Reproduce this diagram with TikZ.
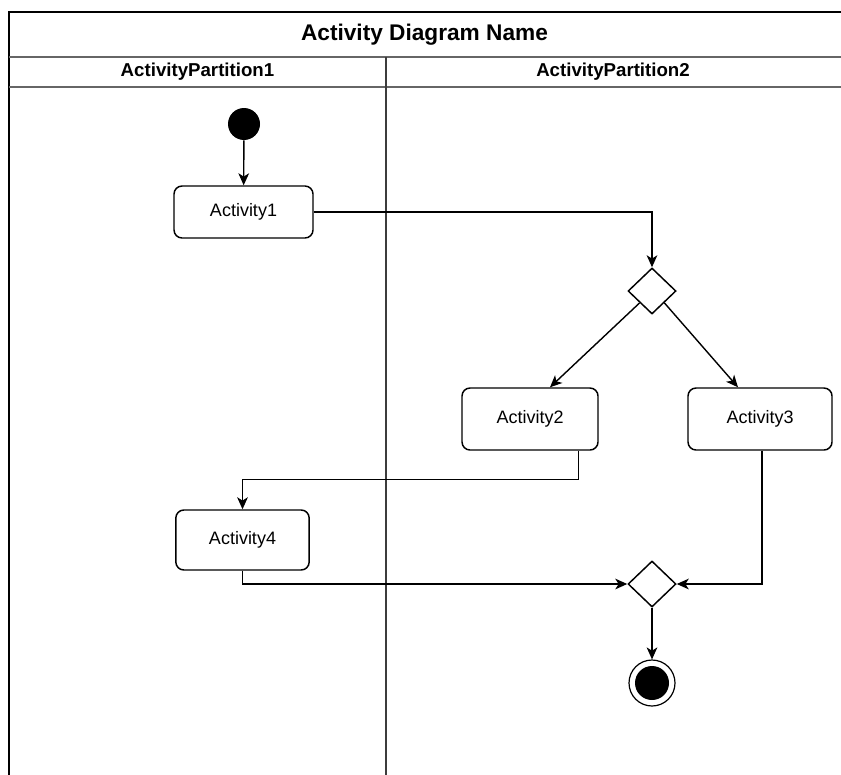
\documentclass[tikz,border=0pt]{standalone}
\usepackage{fontspec}
\setsansfont{Liberation Sans}
\usetikzlibrary{arrows.meta,shapes.geometric}

\begin{document}
\begin{tikzpicture}[
    x=0.75pt, y=-0.75pt,
    font=\sffamily,
    act/.style={
    	draw,
    	line width=1.1pt,
    	minimum height=46.5pt,
    	rounded corners=6pt, inner sep=2pt, align=center,
    	font=\sffamily\fontsize{13.5}{16}\selectfont
    }, decide/.style={
    	diamond, draw, line width=1.1pt, aspect=1,
    	minimum width=36pt, minimum height=34.5pt, inner sep=0pt
    }, flow/.style={
    	-{Stealth[length=9pt, width=8pt, inset=2.5pt]},
    	line width=1.05pt
    }, lane/.style={
    	font=\sffamily\bfseries\fontsize{14}{16}\selectfont
    }]
    \definecolor{my-gray}{RGB}{102, 102, 102}
    \definecolor{my-dark}{RGB}{60, 60, 60}

    \useasboundingbox (0,0) rectangle (841,774);

    %%% FRAME
    \draw[line width=1.6pt] (9,790) -- (9,12) -- (850,12);
    \draw[line width=1.6pt, my-gray] (9,57) -- (850,57);
    \draw[line width=1.3pt, my-gray] (9,87) -- (850,87);
    \draw[line width=1.1pt, my-dark] (386,57) -- (386,790);

    \node[font=\sffamily\bfseries\fontsize{17}{20}\selectfont] (title) at (424.5,34.5) {Activity Diagram Name};
    \node[lane] (lane1) at (197.5,72) {ActivityPartition1};
    \node[lane] (lane2) at (613,72) {ActivityPartition2};
    %%% FRAME

    %%% NODES
    \node[circle, fill=black, minimum size=24pt, inner sep=0pt] (start) at (244,124) {};

    \node[act, minimum width=104.25pt, minimum height=39pt] (act1) at (243.5,212) {Activity1};

    \node[decide] (split) at (652,291) {};

    \node[act, minimum width=102pt] (act2) at (530,419) {Activity2};
    \node[act, minimum width=108pt] (act3) at (760,419) {Activity3};
    \node[act, minimum width=100pt, minimum height=45pt] (act4) at (242.5,540) {Activity4};

    \node[decide] (merge) at (652,584) {};

    \node[circle, draw, line width=0.9pt, minimum size=34.5pt, inner sep=0pt] (final) at (652,683) {};
    \node[circle, fill=black, minimum size=25.5pt, inner sep=0pt] (final-dot) at (final) {};
    %%% NODES

    %%% EDGES
    \draw[flow] (start) -- (act1);
    \draw[flow] (act1.east) -| (split.north);
    \draw[flow] (split.south west) -- ([xshift=15pt]act2.north);
    \draw[flow] (split.south east) -- ([xshift=-16.5pt]act3.north);
    \draw[flow] ([xshift=-15pt]act2.south east) -- ++(0,29) -| (act4.north);
    \draw[flow] (act4.south) |- (merge.west);
    \draw[flow] ([xshift=1.5pt]act3.south) |- (merge.east);
    \draw[flow] (merge.south) -- (final.north);
    %%% EDGES

\end{tikzpicture}
\end{document}
